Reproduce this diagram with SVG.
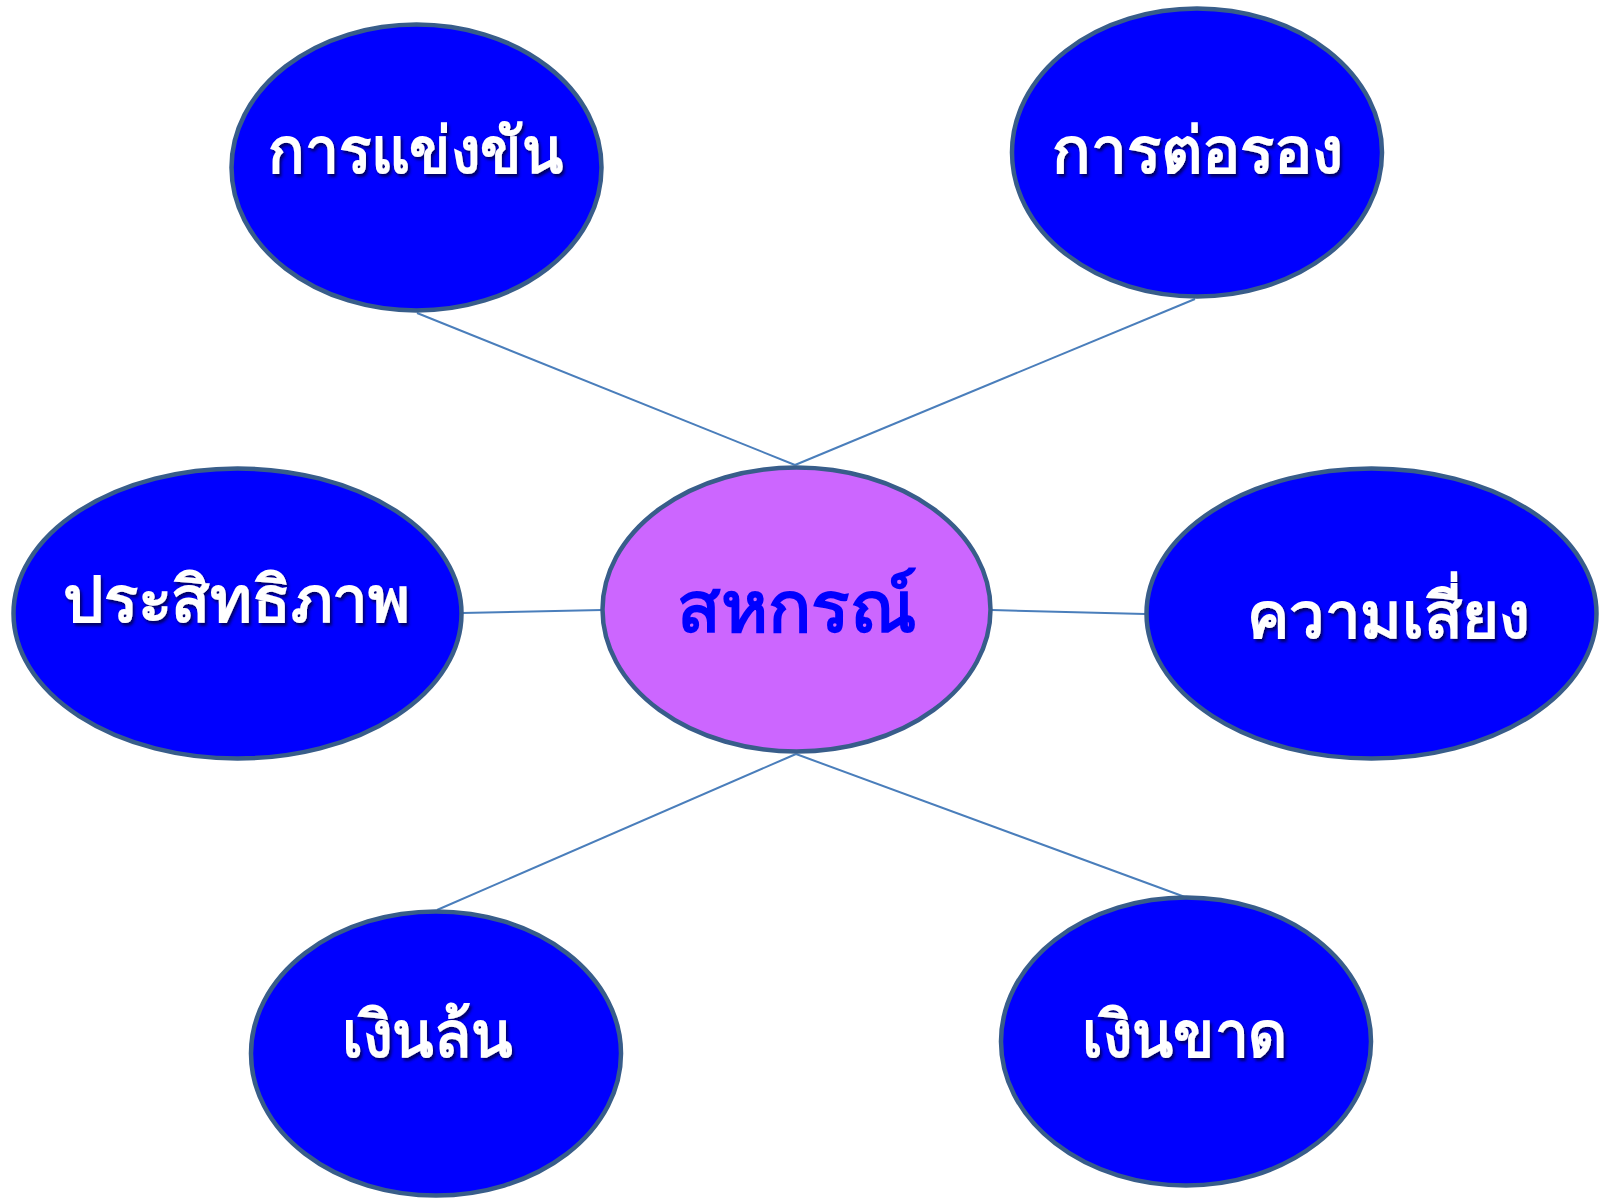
<svg xmlns="http://www.w3.org/2000/svg" width="1602" height="1201" viewBox="0 0 1602 1201">
<defs>
<filter id="sh" x="-10%" y="-30%" width="130%" height="160%">
<feDropShadow dx="2" dy="3" stdDeviation="1.5" flood-color="#000033" flood-opacity="0.75"/>
</filter>
</defs>
<style>
.node{fill:#0000ff;stroke:#385d8a;stroke-width:4.5}
.hub{fill:#cc66ff;stroke:#385d8a;stroke-width:4.5}
.lbl{font-family:"Noto Sans","DejaVu Sans","Liberation Sans",sans-serif;font-weight:bold;font-size:64px;fill:#ffffff;text-anchor:middle;filter:url(#sh)}
.hubl{font-family:"Noto Sans","DejaVu Sans","Liberation Sans",sans-serif;font-weight:bold;font-size:72px;fill:#0000ff;text-anchor:middle}
.conn{stroke:#4a7ebb;stroke-width:2;fill:none}
</style>
<rect width="1602" height="1201" fill="#ffffff"/>
<g id="connectors">
<line class="conn" x1="417" y1="313" x2="795" y2="465"/>
<line class="conn" x1="795" y1="465" x2="1195" y2="299"/>
<line class="conn" x1="462" y1="613" x2="602" y2="610"/>
<line class="conn" x1="992" y1="610" x2="1145" y2="614"/>
<line class="conn" x1="437" y1="910" x2="796" y2="754"/>
<line class="conn" x1="796" y1="754" x2="1185" y2="897"/>
</g>
<g id="n-competition">
<ellipse class="node" cx="416.5" cy="167.5" rx="185" ry="143"/>
<text class="lbl" x="415.5" y="173" textLength="295" lengthAdjust="spacingAndGlyphs">การแข่งขัน</text>
</g>
<g id="n-bargaining">
<ellipse class="node" cx="1197" cy="152.5" rx="185" ry="144"/>
<text class="lbl" x="1197.5" y="173" textLength="291" lengthAdjust="spacingAndGlyphs">การต่อรอง</text>
</g>
<g id="n-efficiency">
<ellipse class="node" cx="237.5" cy="613.5" rx="224" ry="145"/>
<text class="lbl" x="236.5" y="622" textLength="347" lengthAdjust="spacingAndGlyphs">ประสิทธิภาพ</text>
</g>
<g id="n-coop">
<ellipse class="hub" cx="796.5" cy="609.5" rx="194" ry="142"/>
<text class="hubl" x="797" y="632" textLength="240" lengthAdjust="spacingAndGlyphs">สหกรณ์</text>
</g>
<g id="n-risk">
<ellipse class="node" cx="1371.5" cy="613.5" rx="225" ry="145"/>
<text class="lbl" x="1388.5" y="638" textLength="283" lengthAdjust="spacingAndGlyphs">ความเสี่ยง</text>
</g>
<g id="n-surplus">
<ellipse class="node" cx="436" cy="1053.5" rx="185" ry="142"/>
<text class="lbl" x="427.5" y="1057" textLength="171" lengthAdjust="spacingAndGlyphs">เงินล้น</text>
</g>
<g id="n-deficit">
<ellipse class="node" cx="1186" cy="1041.5" rx="185" ry="144"/>
<text class="lbl" x="1185" y="1057" textLength="206" lengthAdjust="spacingAndGlyphs">เงินขาด</text>
</g>
</svg>
